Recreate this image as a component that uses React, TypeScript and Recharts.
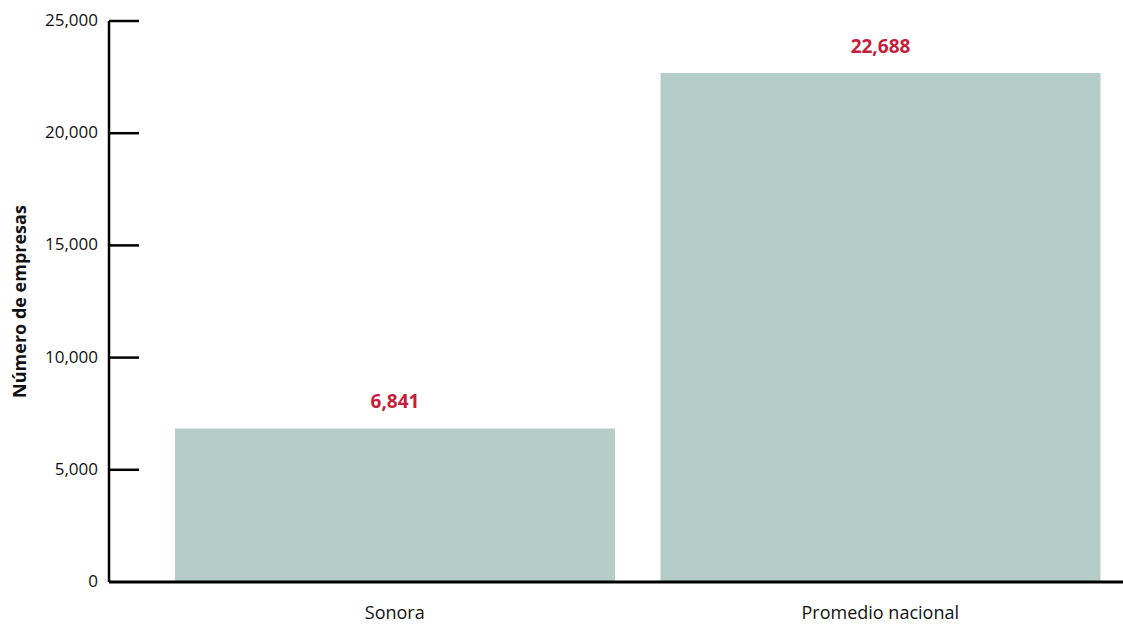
import { Bar, BarChart, LabelList, XAxis, YAxis } from "recharts";

const categories = ["Sonora", "Promedio nacional"];
const empresas = [6841, 22688];
const yTicks = [0, 5000, 10000, 15000, 20000, 25000];

const chartData = categories.map((name, i) => ({ name, empresas: empresas[i] }));

const fmt = (v: number) => v.toLocaleString("en-US");
const FONT = "'Open Sans', Lato, sans-serif";

// y tick: label on the left, tick mark drawn inward (to the right of the axis)
function YTick(props: any) {
  const { x, y, payload } = props;
  const axisX = x + 11;
  return (
    <g>
      {payload.value !== 0 && (
        <line x1={axisX} x2={axisX + 30} y1={y} y2={y} stroke="#000" strokeWidth={2.5} />
      )}
      <text x={x} y={y} dy={5} textAnchor="end" fontSize={17} fill="#111" fontFamily={FONT}>
        {fmt(payload.value)}
      </text>
    </g>
  );
}

export default function App() {
  return (
    <div style={{ position: "absolute", left: 0, top: 0, background: "#fff" }}>
      <BarChart
        width={1123}
        height={625}
        data={chartData}
        margin={{ top: 21, right: 0, bottom: 0, left: 0 }}
        barCategoryGap={23}
      >
        <XAxis
          dataKey="name"
          height={43}
          padding={{ left: 43, right: 0 }}
          axisLine={{ stroke: "#000", strokeWidth: 3 }}
          tickLine={false}
          tickMargin={18}
          tick={{ fontSize: 18, fill: "#111", fontFamily: FONT }}
        />
        <YAxis
          width={109}
          domain={[0, 25000]}
          ticks={yTicks}
          interval={0}
          tickSize={0}
          tickMargin={11}
          tickLine={false}
          axisLine={{ stroke: "#000", strokeWidth: 2.5 }}
          tick={<YTick />}
          label={{
            value: "Número de empresas",
            angle: -90,
            position: "center",
            dx: -35,
            style: { fontSize: 18, fontWeight: 700, fill: "#111", fontFamily: FONT },
          }}
        />
        <Bar dataKey="empresas" fill="#b5cdc9" isAnimationActive={false}>
          <LabelList
            dataKey="empresas"
            position="top"
            offset={20}
            formatter={(v: any) => fmt(Number(v))}
            style={{ fontSize: 19, fontWeight: 700, fill: "#c4203b", fontFamily: FONT }}
          />
        </Bar>
      </BarChart>
    </div>
  );
}
